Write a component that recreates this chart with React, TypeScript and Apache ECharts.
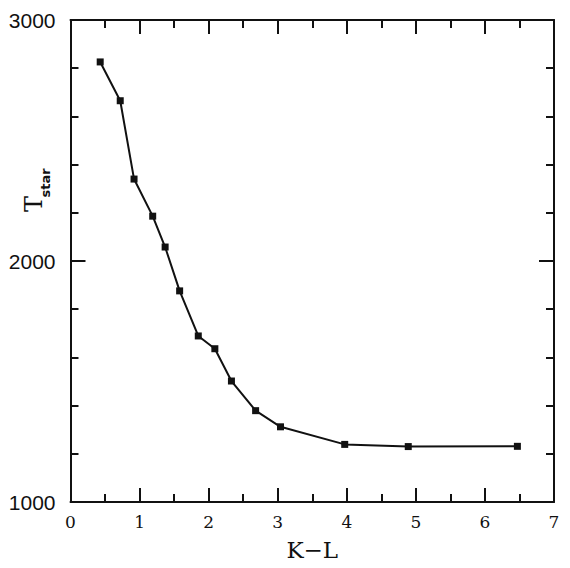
import React, { useEffect, useRef } from "react";
import * as echarts from "echarts";

const kl = [0.43, 0.72, 0.92, 1.19, 1.37, 1.58, 1.85, 2.09, 2.33, 2.68, 3.04, 3.97, 4.89, 6.47];
const tstar = [2826, 2665, 2340, 2186, 2058, 1876, 1689, 1636, 1502, 1379, 1312, 1239, 1230, 1231];
const xTicks = [0, 1, 2, 3, 4, 5, 6, 7];
const yTicks = [1000, 2000, 3000];

export default function App() {
  const ref = useRef<HTMLDivElement>(null);
  useEffect(() => {
    if (!ref.current) return;
    const chart = echarts.init(ref.current, null, { renderer: "svg" });
    const axisLine = { show: true, onZero: false, lineStyle: { color: "#111", width: 2 } };
    const xCommon = {
      type: "value",
      min: xTicks[0],
      max: xTicks[xTicks.length - 1],
      interval: 1,
      splitLine: { show: false },
      axisLine,
      axisTick: { show: true, inside: true, length: 14, lineStyle: { color: "#111", width: 2 } },
      minorTick: { show: true, splitNumber: 2, length: 8, lineStyle: { color: "#111", width: 2 } },
    };
    const yCommon = {
      type: "value",
      min: yTicks[0],
      max: yTicks[yTicks.length - 1],
      interval: 1000,
      splitLine: { show: false },
      axisLine,
      axisTick: { show: true, inside: true, length: 15, lineStyle: { color: "#111", width: 2 } },
      minorTick: { show: true, splitNumber: 5, length: 8, lineStyle: { color: "#111", width: 2 } },
    };
    chart.setOption({
      animation: false,
      backgroundColor: "#fff",
      grid: { left: 62.5, right: 16, top: 12, bottom: 66, containLabel: false, outerBoundsMode: "none" },
      xAxis: [
        {
          ...xCommon,
          position: "bottom",
          name: "K−L",
          nameLocation: "middle",
          nameGap: 36,
          nameTextStyle: { fontFamily: "DejaVu Serif", fontSize: 23, color: "#111" },
          axisLabel: { show: true, margin: 11, fontFamily: "DejaVu Serif", fontSize: 17, color: "#111" },
        },
        { ...xCommon, position: "top", axisLabel: { show: false } },
      ],
      yAxis: [
        {
          ...yCommon,
          position: "left",
          axisLabel: {
            show: true,
            margin: 15,
            fontFamily: "Liberation Sans",
            fontSize: 21,
            color: "#111",
            formatter: (v: number) => (yTicks.includes(v) ? String(v) : ""),
          },
        },
        { ...yCommon, position: "right", axisLabel: { show: false } },
      ],
      graphic: [
        {
          type: "group",
          x: 26,
          y: 196,
          rotation: Math.PI / 2,
          originX: 0,
          originY: 0,
          children: [
            {
              type: "text",
              x: 0,
              y: 0,
              style: {
                text: "T",
                align: "center",
                verticalAlign: "middle",
                fontFamily: "DejaVu Serif",
                fontSize: 24,
                fill: "#111",
              },
            },
            {
              type: "text",
              x: 21,
              y: 11,
              style: {
                text: "star",
                align: "center",
                verticalAlign: "middle",
                fontFamily: "DejaVu Sans",
                fontSize: 13,
                fontWeight: "bold",
                fill: "#111",
              },
            },
          ],
        },
      ],
      series: [
        {
          type: "line",
          data: kl.map((x, i) => [x, tstar[i]]),
          symbol: "rect",
          symbolSize: 7,
          lineStyle: { color: "#111", width: 2 },
          itemStyle: { color: "#111" },
        },
      ],
    });
    return () => chart.dispose();
  }, []);
  return <div ref={ref} style={{ width: 562, height: 560 }} />;
}
